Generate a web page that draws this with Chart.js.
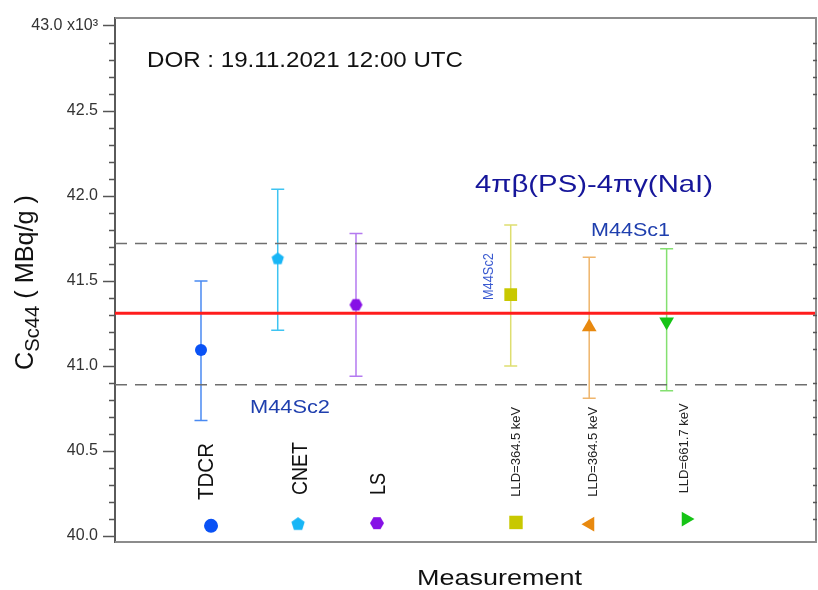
<!DOCTYPE html>
<html>
<head>
<meta charset="utf-8">
<script src="https://cdn.jsdelivr.net/npm/chart.js@4.4.1/dist/chart.umd.min.js"></script>
<style>
  html, body { margin: 0; padding: 0; background: #fff; overflow: hidden; }
  canvas { display: block; }
</style>
</head>
<body>
<canvas id="chart" width="818" height="590"></canvas>
<script>
// measurements (one per method)
const methods = ["TDCR", "CNET", "LS", "LLD=364.5 keV", "LLD=364.5 keV", "LLD=661.7 keV"];
const xPos = [1.225, 2.318, 3.433, 5.637, 6.755, 7.858];
const values = [41.094, 41.63, 41.36, 41.42, 41.23, 41.26];
const upper = [41.50, 42.04, 41.78, 41.83, 41.64, 41.69];
const lower = [40.68, 41.21, 40.94, 41.00, 40.81, 40.855];

// symbol key at the bottom of the plot
const keyX = [1.368, 2.607, 3.732, 5.712, 6.766, 8.134];
const keyY = [40.06, 40.07, 40.076, 40.08, 40.07, 40.10];

// reference value and its band
const refValue = 41.31;
const refUpper = 41.72;
const refLower = 40.89;

// y ticks
const yMajor = [40.0, 40.5, 41.0, 41.5, 42.0, 42.5, 43.0];
const yMajorLabels = ["40.0", "40.5", "41.0", "41.5", "42.0", "42.5", "43.0 x10\u00b3"];

const FONT = "'Liberation Sans', Arial, sans-serif";

const markerColors = ["#0a52f5", "#18b6f6", "#8610e6", "#c8c800", "#e8890f", "#16c416"];
const barColors = ["#4a8af2", "#3ec4f2", "#b47af0", "#dede70", "#efb56c", "#84e070"];

function polygon(sides, r, color, start) {
  const c = document.createElement("canvas");
  const s = Math.ceil(2 * r + 2);
  c.width = s;
  c.height = s;
  const g = c.getContext("2d");
  g.fillStyle = color;
  g.beginPath();
  for (let k = 0; k < sides; k++) {
    const a = start + k * 2 * Math.PI / sides;
    const px = s / 2 + r * Math.cos(a);
    const py = s / 2 + r * Math.sin(a);
    if (k) g.lineTo(px, py); else g.moveTo(px, py);
  }
  g.closePath();
  g.fill();
  return c;
}

const pentaMain = polygon(5, 6.5, markerColors[1], -Math.PI / 2);
const hexaMain = polygon(6, 6.5, markerColors[2], 0);
const pentaKey = polygon(5, 7, markerColors[1], -Math.PI / 2);
const hexaKey = polygon(6, 7, markerColors[2], 0);

// minor tick list for the y axis (every 0.1)
const yTicks = [];
for (let k = 400; k <= 430; k++) yTicks.push(k / 10);

function isMajor(v) {
  return yMajor.some(m => Math.abs(m - v) < 1e-6);
}

// texts placed in data coordinates
const notes = [
  { text: "DOR : 19.11.2021 12:00 UTC", x: 0.456, y: 42.759, size: 22, len: 316, color: "#111" },
  { text: "4\u03c0\u03b2(PS)-4\u03c0\u03b3(NaI)", x: 5.128, y: 42.024, size: 24, len: 238, color: "#16169a" },
  { text: "M44Sc1", x: 6.781, y: 41.765, size: 18, len: 79, color: "#1f3fae" },
  { text: "M44Sc2", x: 1.923, y: 40.724, size: 18, len: 80, color: "#1f3fae" },
  { text: "M44Sc2", x: 5.385, y: 41.388, size: 14, len: 47, color: "#3a5ad0", rot: true },
  { text: methods[0], x: 1.396, y: 40.212, size: 22, len: 57, color: "#111", rot: true },
  { text: methods[1], x: 2.735, y: 40.241, size: 22, len: 53, color: "#111", rot: true },
  { text: methods[2], x: 3.846, y: 40.241, size: 22, len: 22, color: "#111", rot: true },
  { text: methods[3], x: 5.769, y: 40.231, size: 13.5, len: 90, color: "#222", rot: true },
  { text: methods[4], x: 6.866, y: 40.231, size: 13.5, len: 90, color: "#222", rot: true },
  { text: methods[5], x: 8.162, y: 40.251, size: 13.5, len: 90, color: "#222", rot: true },
  { text: "Measurement", x: 4.302, y: 39.712, size: 22, len: 165, color: "#111" }
];

function fitText(ctx, n, px, py) {
  ctx.save();
  ctx.font = n.size + "px " + FONT;
  ctx.fillStyle = n.color;
  ctx.textAlign = "left";
  ctx.textBaseline = "alphabetic";
  const w = ctx.measureText(n.text).width;
  ctx.translate(px, py);
  if (n.rot) ctx.rotate(-Math.PI / 2);
  ctx.scale(n.len / w, 1);
  ctx.fillText(n.text, 0, 0);
  ctx.restore();
}

function drawYTitle(ctx, x, y, len) {
  const parts = [["C", 25, 0], ["Sc44", 20, 6], [" ( MBq/g )", 25, 0]];
  ctx.save();
  ctx.translate(x, y);
  ctx.rotate(-Math.PI / 2);
  ctx.fillStyle = "#111";
  ctx.textBaseline = "alphabetic";
  let total = 0;
  parts.forEach(p => {
    ctx.font = p[1] + "px " + FONT;
    p.push(ctx.measureText(p[0]).width);
    total += p[3];
  });
  ctx.scale(len / total, 1);
  let cx = 0;
  parts.forEach(p => {
    ctx.font = p[1] + "px " + FONT;
    ctx.fillText(p[0], cx, p[2]);
    cx += p[3];
  });
  ctx.restore();
}

const errorBars = {
  id: "errorBars",
  beforeDatasetsDraw(chart) {
    const { ctx, scales: { x, y } } = chart;
    ctx.save();
    ctx.lineWidth = 1.5;
    for (let i = 0; i < values.length; i++) {
      const px = x.getPixelForValue(xPos[i]);
      const top = y.getPixelForValue(upper[i]);
      const bot = y.getPixelForValue(lower[i]);
      ctx.strokeStyle = barColors[i];
      ctx.beginPath();
      ctx.moveTo(px, top); ctx.lineTo(px, bot);
      ctx.moveTo(px - 6.5, top); ctx.lineTo(px + 6.5, top);
      ctx.moveTo(px - 6.5, bot); ctx.lineTo(px + 6.5, bot);
      ctx.stroke();
    }
    ctx.restore();
  }
};

const overlay = {
  id: "overlay",
  afterDraw(chart) {
    const { ctx, chartArea: a, scales: { x, y } } = chart;
    // frame (top, right, bottom)
    ctx.save();
    ctx.strokeStyle = "#8c8c8c";
    ctx.lineWidth = 2;
    ctx.beginPath();
    ctx.moveTo(a.left, a.top); ctx.lineTo(a.right - 1, a.top);
    ctx.lineTo(a.right - 1, a.bottom); ctx.lineTo(a.left, a.bottom);
    ctx.stroke();
    // minor ticks on the y axis
    ctx.strokeStyle = "#555";
    ctx.lineWidth = 1.5;
    ctx.beginPath();
    yTicks.forEach(v => {
      if (isMajor(v)) return;
      const py = Math.round(y.getPixelForValue(v)) + 0.5;
      ctx.moveTo(a.left - 6, py); ctx.lineTo(a.left, py);
      ctx.moveTo(a.right - 4, py); ctx.lineTo(a.right, py);
    });
    ctx.stroke();
    ctx.restore();

    notes.forEach(n => fitText(ctx, n, x.getPixelForValue(n.x), y.getPixelForValue(n.y)));
    drawYTitle(ctx, 33, 370, 175);
  }
};

new Chart(document.getElementById("chart"), {
  type: "scatter",
  data: {
    datasets: [
      {
        label: "measurements",
        data: xPos.map((v, i) => ({ x: v, y: values[i] })),
        pointStyle: ["circle", pentaMain, hexaMain, "rect", "triangle", "triangle"],
        pointRadius: [6, 7, 7, 9, 8.5, 8.5],
        pointRotation: [0, 0, 0, 0, 0, 180],
        pointBackgroundColor: markerColors,
        pointBorderColor: markerColors,
        pointBorderWidth: 0
      },
      {
        label: "key",
        data: keyX.map((v, i) => ({ x: v, y: keyY[i] })),
        pointStyle: ["circle", pentaKey, hexaKey, "rect", "triangle", "triangle"],
        pointRadius: [7, 7, 7, 9.5, 8.5, 8.5],
        pointRotation: [0, 0, 0, 0, 270, 90],
        pointBackgroundColor: markerColors,
        pointBorderColor: markerColors,
        pointBorderWidth: 0
      },
      {
        type: "line",
        label: "reference",
        data: [{ x: 0, y: refValue }, { x: 10, y: refValue }],
        borderColor: "#ff1c1c",
        borderWidth: 3,
        pointRadius: 0
      },
      {
        type: "line",
        label: "upper",
        data: [{ x: 0, y: refUpper }, { x: 10, y: refUpper }],
        borderColor: "#6e6e6e",
        borderWidth: 1.5,
        borderDash: [12, 8],
        pointRadius: 0
      },
      {
        type: "line",
        label: "lower",
        data: [{ x: 0, y: refLower }, { x: 10, y: refLower }],
        borderColor: "#6e6e6e",
        borderWidth: 1.5,
        borderDash: [12, 8],
        pointRadius: 0
      }
    ]
  },
  options: {
    responsive: false,
    animation: false,
    devicePixelRatio: 1,
    layout: { autoPadding: false, padding: { top: 18, right: 1, bottom: 48, left: 0 } },
    plugins: { legend: { display: false }, tooltip: { enabled: false } },
    scales: {
      x: { type: "linear", min: 0, max: 10, display: false },
      y: {
        min: 39.965,
        max: 43.047,
        afterFit(scale) { scale.width = 115; },
        afterBuildTicks(scale) { scale.ticks = yTicks.map(v => ({ value: v })); },
        border: { display: true, color: "#5a5a5a", width: 2 },
        grid: {
          drawOnChartArea: false,
          tickLength: 12,
          tickWidth: 1.5,
          tickColor: c => (c.tick && isMajor(c.tick.value) ? "#555" : "rgba(0,0,0,0)")
        },
        ticks: {
          autoSkip: false,
          padding: 5,
          color: "#333",
          font: { size: 16, family: FONT },
          callback: v => {
            const i = yMajor.findIndex(m => Math.abs(m - v) < 1e-6);
            return i < 0 ? "" : yMajorLabels[i];
          }
        }
      }
    }
  },
  plugins: [errorBars, overlay]
});
</script>
</body>
</html>
